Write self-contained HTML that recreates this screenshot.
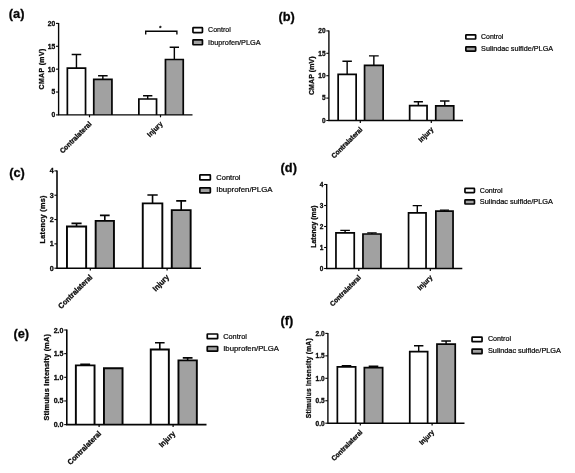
<!DOCTYPE html><html><head><meta charset="utf-8"><title>Figure</title>
<style>html,body{margin:0;padding:0;background:#fff}svg{display:block;filter:blur(0.45px)}text{font-family:"Liberation Sans",sans-serif;fill:#050505}text[font-weight=bold]{stroke:#111;stroke-width:0.3px}text.lg{stroke:#111;stroke-width:0.22px}</style></head><body>
<svg width="575" height="473" viewBox="0 0 575 473">
<rect width="575" height="473" fill="#fff"/>
<g>
<text x="8.8" y="17.5" font-size="12.8" font-weight="bold">(a)</text>
<path d="M76.45 68.20V54.50M71.67 54.50H81.23" stroke="#050505" stroke-width="1.42" fill="none"/>
<path d="M67.36 114.90V68.20H85.54V114.90" fill="#fff" stroke="#050505" stroke-width="1.72"/>
<path d="M102.85 79.30V75.70M98.07 75.70H107.63" stroke="#050505" stroke-width="1.42" fill="none"/>
<path d="M93.76 114.90V79.30H111.94V114.90" fill="#a1a1a1" stroke="#050505" stroke-width="1.72"/>
<path d="M147.70 99.00V95.70M143.04 95.70H152.36" stroke="#050505" stroke-width="1.42" fill="none"/>
<path d="M138.86 114.90V99.00H156.54V114.90" fill="#fff" stroke="#050505" stroke-width="1.72"/>
<path d="M174.35 59.50V47.30M169.67 47.30H179.03" stroke="#050505" stroke-width="1.42" fill="none"/>
<path d="M165.46 114.90V59.50H183.24V114.90" fill="#a1a1a1" stroke="#050505" stroke-width="1.72"/>
<path d="M58.60 22.90V114.90H192.50" stroke="#050505" stroke-width="1.37" fill="none"/>
<path d="M56.00 114.90H58.60" stroke="#050505" stroke-width="1.1"/>
<text x="55.30" y="117.31" font-size="6.70" font-weight="bold" text-anchor="end">0</text>
<path d="M56.00 92.03H58.60" stroke="#050505" stroke-width="1.1"/>
<text x="55.30" y="94.44" font-size="6.70" font-weight="bold" text-anchor="end">5</text>
<path d="M56.00 69.15H58.60" stroke="#050505" stroke-width="1.1"/>
<text x="55.30" y="71.56" font-size="6.70" font-weight="bold" text-anchor="end">10</text>
<path d="M56.00 46.28H58.60" stroke="#050505" stroke-width="1.1"/>
<text x="55.30" y="48.69" font-size="6.70" font-weight="bold" text-anchor="end">15</text>
<path d="M56.00 23.40H58.60" stroke="#050505" stroke-width="1.1"/>
<text x="55.30" y="25.81" font-size="6.70" font-weight="bold" text-anchor="end">20</text>
<path d="M89.50 114.90V117.30" stroke="#050505" stroke-width="1.2"/>
<path d="M160.50 114.90V117.30" stroke="#050505" stroke-width="1.2"/>
<text transform="translate(92.10 124.40) rotate(-45) scale(0.94 1)" font-size="7.2" font-weight="bold" text-anchor="end">Contralateral</text>
<text transform="translate(163.10 124.40) rotate(-45) scale(0.94 1)" font-size="7.2" font-weight="bold" text-anchor="end">Injury</text>
<text transform="translate(43.80 69.15) rotate(-90)" font-size="6.9" font-weight="bold" text-anchor="middle" textLength="40.7" lengthAdjust="spacing">CMAP (mV)</text>
<rect x="192.95" y="27.65" width="9.50" height="4.90" rx="0.5" fill="#fff" stroke="#050505" stroke-width="1.7"/>
<text x="208.10" y="32.44" font-size="7.80" textLength="22.7" lengthAdjust="spacingAndGlyphs" class="lg">Control</text>
<rect x="192.95" y="39.85" width="9.50" height="4.90" rx="0.5" fill="#a1a1a1" stroke="#050505" stroke-width="1.7"/>
<text x="208.10" y="44.64" font-size="7.80" textLength="52.6" lengthAdjust="spacingAndGlyphs" class="lg">Ibuprofen/PLGA</text>
<path d="M145.7 34.5V31.200000000000003H176.9V34.5" stroke="#050505" stroke-width="1.35" fill="none"/>
<text x="160.2" y="29.9" font-size="5.5" font-weight="bold" text-anchor="middle">*</text>
</g>
<g>
<text x="278.5" y="20.5" font-size="12.8" font-weight="bold">(b)</text>
<path d="M347.15 74.30V61.20M342.42 61.20H351.88" stroke="#050505" stroke-width="1.42" fill="none"/>
<path d="M338.16 120.50V74.30H356.14V120.50" fill="#fff" stroke="#050505" stroke-width="1.72"/>
<path d="M373.85 65.40V55.90M368.98 55.90H378.72" stroke="#050505" stroke-width="1.42" fill="none"/>
<path d="M364.56 120.50V65.40H383.14V120.50" fill="#a1a1a1" stroke="#050505" stroke-width="1.72"/>
<path d="M418.35 105.70V101.70M413.77 101.70H422.93" stroke="#050505" stroke-width="1.42" fill="none"/>
<path d="M409.66 120.50V105.70H427.04V120.50" fill="#fff" stroke="#050505" stroke-width="1.72"/>
<path d="M444.75 105.90V101.00M440.02 101.00H449.48" stroke="#050505" stroke-width="1.42" fill="none"/>
<path d="M435.76 120.50V105.90H453.74V120.50" fill="#a1a1a1" stroke="#050505" stroke-width="1.72"/>
<path d="M328.90 30.40V120.50H463.00" stroke="#050505" stroke-width="1.37" fill="none"/>
<path d="M326.30 120.50H328.90" stroke="#050505" stroke-width="1.1"/>
<text x="325.60" y="122.84" font-size="6.51" font-weight="bold" text-anchor="end">0</text>
<path d="M326.30 98.10H328.90" stroke="#050505" stroke-width="1.1"/>
<text x="325.60" y="100.44" font-size="6.51" font-weight="bold" text-anchor="end">5</text>
<path d="M326.30 75.70H328.90" stroke="#050505" stroke-width="1.1"/>
<text x="325.60" y="78.04" font-size="6.51" font-weight="bold" text-anchor="end">10</text>
<path d="M326.30 53.30H328.90" stroke="#050505" stroke-width="1.1"/>
<text x="325.60" y="55.64" font-size="6.51" font-weight="bold" text-anchor="end">15</text>
<path d="M326.30 30.90H328.90" stroke="#050505" stroke-width="1.1"/>
<text x="325.60" y="33.24" font-size="6.51" font-weight="bold" text-anchor="end">20</text>
<path d="M360.30 120.50V122.90" stroke="#050505" stroke-width="1.2"/>
<path d="M431.30 120.50V122.90" stroke="#050505" stroke-width="1.2"/>
<text transform="translate(362.90 130.00) rotate(-45) scale(0.94 1)" font-size="7.0" font-weight="bold" text-anchor="end">Contralateral</text>
<text transform="translate(433.90 130.00) rotate(-45) scale(0.94 1)" font-size="7.0" font-weight="bold" text-anchor="end">Injury</text>
<text transform="translate(313.90 75.70) rotate(-90)" font-size="7.0" font-weight="bold" text-anchor="middle" textLength="38.7" lengthAdjust="spacing">CMAP (mV)</text>
<rect x="465.85" y="34.80" width="9.80" height="4.20" rx="0.5" fill="#fff" stroke="#050505" stroke-width="1.7"/>
<text x="481.10" y="38.96" font-size="7.00" textLength="22.3" lengthAdjust="spacingAndGlyphs" class="lg">Control</text>
<rect x="465.85" y="46.90" width="9.80" height="4.20" rx="0.5" fill="#a1a1a1" stroke="#050505" stroke-width="1.7"/>
<text x="481.10" y="51.06" font-size="7.00" textLength="72.0" lengthAdjust="spacingAndGlyphs" class="lg">Sulindac sulfide/PLGA</text>
</g>
<g>
<text x="9.2" y="177.3" font-size="12.8" font-weight="bold">(c)</text>
<path d="M76.55 226.50V223.40M71.49 223.40H81.61" stroke="#050505" stroke-width="1.62" fill="none"/>
<path d="M66.96 268.20V226.50H86.14V268.20" fill="#fff" stroke="#050505" stroke-width="1.92"/>
<path d="M104.80 220.90V215.40M99.95 215.40H109.65" stroke="#050505" stroke-width="1.62" fill="none"/>
<path d="M95.66 268.20V220.90H113.94V268.20" fill="#a1a1a1" stroke="#050505" stroke-width="1.92"/>
<path d="M152.55 203.40V195.00M147.39 195.00H157.71" stroke="#050505" stroke-width="1.62" fill="none"/>
<path d="M142.76 268.20V203.40H162.34V268.20" fill="#fff" stroke="#050505" stroke-width="1.92"/>
<path d="M181.20 210.10V200.90M176.21 200.90H186.19" stroke="#050505" stroke-width="1.62" fill="none"/>
<path d="M171.76 268.20V210.10H190.64V268.20" fill="#a1a1a1" stroke="#050505" stroke-width="1.92"/>
<path d="M57.00 170.40V268.20H201.00" stroke="#050505" stroke-width="1.57" fill="none"/>
<path d="M54.40 268.20H57.00" stroke="#050505" stroke-width="1.1"/>
<text x="53.70" y="270.78" font-size="7.16" font-weight="bold" text-anchor="end">0</text>
<path d="M54.40 243.88H57.00" stroke="#050505" stroke-width="1.1"/>
<text x="53.70" y="246.45" font-size="7.16" font-weight="bold" text-anchor="end">1</text>
<path d="M54.40 219.55H57.00" stroke="#050505" stroke-width="1.1"/>
<text x="53.70" y="222.13" font-size="7.16" font-weight="bold" text-anchor="end">2</text>
<path d="M54.40 195.22H57.00" stroke="#050505" stroke-width="1.1"/>
<text x="53.70" y="197.80" font-size="7.16" font-weight="bold" text-anchor="end">3</text>
<path d="M54.40 170.90H57.00" stroke="#050505" stroke-width="1.1"/>
<text x="53.70" y="173.48" font-size="7.16" font-weight="bold" text-anchor="end">4</text>
<path d="M90.30 268.20V270.60" stroke="#050505" stroke-width="1.2"/>
<path d="M167.10 268.20V270.60" stroke="#050505" stroke-width="1.2"/>
<text transform="translate(92.90 277.70) rotate(-45) scale(0.94 1)" font-size="7.7" font-weight="bold" text-anchor="end">Contralateral</text>
<text transform="translate(169.70 277.70) rotate(-45) scale(0.94 1)" font-size="7.7" font-weight="bold" text-anchor="end">Injury</text>
<text transform="translate(45.00 219.55) rotate(-90)" font-size="7.3" font-weight="bold" text-anchor="middle" textLength="48.0" lengthAdjust="spacing">Latency (ms)</text>
<rect x="199.85" y="174.90" width="10.50" height="5.00" rx="0.5" fill="#fff" stroke="#050505" stroke-width="1.7"/>
<text x="216.30" y="179.53" font-size="7.20" textLength="24.2" lengthAdjust="spacingAndGlyphs" class="lg">Control</text>
<rect x="199.85" y="187.80" width="10.50" height="5.00" rx="0.5" fill="#a1a1a1" stroke="#050505" stroke-width="1.7"/>
<text x="216.30" y="192.43" font-size="7.20" textLength="56.2" lengthAdjust="spacingAndGlyphs" class="lg">Ibuprofen/PLGA</text>
</g>
<g>
<text x="280.6" y="172.3" font-size="12.8" font-weight="bold">(d)</text>
<path d="M345.10 232.90V230.40M340.30 230.40H349.90" stroke="#050505" stroke-width="1.42" fill="none"/>
<path d="M335.96 268.50V232.90H354.24V268.50" fill="#fff" stroke="#050505" stroke-width="1.72"/>
<path d="M371.95 234.00V232.90M367.22 232.90H376.68" stroke="#050505" stroke-width="1.42" fill="none"/>
<path d="M362.96 268.50V234.00H380.94V268.50" fill="#a1a1a1" stroke="#050505" stroke-width="1.72"/>
<path d="M417.30 212.90V205.60M412.69 205.60H421.91" stroke="#050505" stroke-width="1.42" fill="none"/>
<path d="M408.56 268.50V212.90H426.04V268.50" fill="#fff" stroke="#050505" stroke-width="1.72"/>
<path d="M444.45 211.20V210.10M439.91 210.10H448.99" stroke="#050505" stroke-width="1.42" fill="none"/>
<path d="M435.86 268.50V211.20H453.04V268.50" fill="#a1a1a1" stroke="#050505" stroke-width="1.72"/>
<path d="M326.70 184.00V268.50H462.30" stroke="#050505" stroke-width="1.37" fill="none"/>
<path d="M324.10 268.50H326.70" stroke="#050505" stroke-width="1.1"/>
<text x="323.40" y="270.84" font-size="6.51" font-weight="bold" text-anchor="end">0</text>
<path d="M324.10 247.50H326.70" stroke="#050505" stroke-width="1.1"/>
<text x="323.40" y="249.84" font-size="6.51" font-weight="bold" text-anchor="end">1</text>
<path d="M324.10 226.50H326.70" stroke="#050505" stroke-width="1.1"/>
<text x="323.40" y="228.84" font-size="6.51" font-weight="bold" text-anchor="end">2</text>
<path d="M324.10 205.50H326.70" stroke="#050505" stroke-width="1.1"/>
<text x="323.40" y="207.84" font-size="6.51" font-weight="bold" text-anchor="end">3</text>
<path d="M324.10 184.50H326.70" stroke="#050505" stroke-width="1.1"/>
<text x="323.40" y="186.84" font-size="6.51" font-weight="bold" text-anchor="end">4</text>
<path d="M358.80 268.50V270.90" stroke="#050505" stroke-width="1.2"/>
<path d="M430.30 268.50V270.90" stroke="#050505" stroke-width="1.2"/>
<text transform="translate(361.40 278.00) rotate(-45) scale(0.94 1)" font-size="7.0" font-weight="bold" text-anchor="end">Contralateral</text>
<text transform="translate(432.90 278.00) rotate(-45) scale(0.94 1)" font-size="7.0" font-weight="bold" text-anchor="end">Injury</text>
<text transform="translate(316.20 226.50) rotate(-90)" font-size="6.8" font-weight="bold" text-anchor="middle" textLength="42.3" lengthAdjust="spacing">Latency (ms)</text>
<rect x="464.95" y="188.45" width="9.50" height="4.10" rx="0.5" fill="#fff" stroke="#050505" stroke-width="1.7"/>
<text x="479.80" y="192.59" font-size="7.10" textLength="22.8" lengthAdjust="spacingAndGlyphs" class="lg">Control</text>
<rect x="464.95" y="199.90" width="9.50" height="4.10" rx="0.5" fill="#a1a1a1" stroke="#050505" stroke-width="1.7"/>
<text x="479.80" y="204.04" font-size="7.10" textLength="73.2" lengthAdjust="spacingAndGlyphs" class="lg">Sulindac sulfide/PLGA</text>
</g>
<g>
<text x="13.4" y="337.9" font-size="12.8" font-weight="bold">(e)</text>
<path d="M85.20 365.40V364.30M80.26 364.30H90.14" stroke="#050505" stroke-width="1.62" fill="none"/>
<path d="M75.86 424.60V365.40H94.54V424.60" fill="#fff" stroke="#050505" stroke-width="1.92"/>
<path d="M103.96 424.60V368.20H122.54V424.60" fill="#a1a1a1" stroke="#050505" stroke-width="1.92"/>
<path d="M159.80 349.50V342.80M155.00 342.80H164.60" stroke="#050505" stroke-width="1.62" fill="none"/>
<path d="M150.76 424.60V349.50H168.84V424.60" fill="#fff" stroke="#050505" stroke-width="1.92"/>
<path d="M187.65 360.40V357.90M182.78 357.90H192.52" stroke="#050505" stroke-width="1.62" fill="none"/>
<path d="M178.46 424.60V360.40H196.84V424.60" fill="#a1a1a1" stroke="#050505" stroke-width="1.92"/>
<path d="M66.80 329.50V424.60H206.50" stroke="#050505" stroke-width="1.57" fill="none"/>
<path d="M64.20 424.60H66.80" stroke="#050505" stroke-width="1.1"/>
<text x="63.50" y="427.14" font-size="7.07" font-weight="bold" text-anchor="end">0.0</text>
<path d="M64.20 400.95H66.80" stroke="#050505" stroke-width="1.1"/>
<text x="63.50" y="403.49" font-size="7.07" font-weight="bold" text-anchor="end">0.5</text>
<path d="M64.20 377.30H66.80" stroke="#050505" stroke-width="1.1"/>
<text x="63.50" y="379.84" font-size="7.07" font-weight="bold" text-anchor="end">1.0</text>
<path d="M64.20 353.65H66.80" stroke="#050505" stroke-width="1.1"/>
<text x="63.50" y="356.19" font-size="7.07" font-weight="bold" text-anchor="end">1.5</text>
<path d="M64.20 330.00H66.80" stroke="#050505" stroke-width="1.1"/>
<text x="63.50" y="332.54" font-size="7.07" font-weight="bold" text-anchor="end">2.0</text>
<path d="M99.10 424.60V427.00" stroke="#050505" stroke-width="1.2"/>
<path d="M173.10 424.60V427.00" stroke="#050505" stroke-width="1.2"/>
<text transform="translate(101.70 434.10) rotate(-45) scale(0.94 1)" font-size="7.6" font-weight="bold" text-anchor="end">Contralateral</text>
<text transform="translate(175.70 434.10) rotate(-45) scale(0.94 1)" font-size="7.6" font-weight="bold" text-anchor="end">Injury</text>
<text transform="translate(49.00 377.30) rotate(-90)" font-size="7.3" font-weight="bold" text-anchor="middle" textLength="86.6" lengthAdjust="spacing">Stimulus intensity (mA)</text>
<rect x="207.25" y="334.00" width="10.40" height="4.70" rx="0.5" fill="#fff" stroke="#050505" stroke-width="1.7"/>
<text x="223.20" y="338.55" font-size="7.40" textLength="23.7" lengthAdjust="spacingAndGlyphs" class="lg">Control</text>
<rect x="207.25" y="346.50" width="10.40" height="4.70" rx="0.5" fill="#a1a1a1" stroke="#050505" stroke-width="1.7"/>
<text x="223.20" y="351.05" font-size="7.40" textLength="55.7" lengthAdjust="spacingAndGlyphs" class="lg">Ibuprofen/PLGA</text>
</g>
<g>
<text x="280.6" y="324.8" font-size="12.8" font-weight="bold">(f)</text>
<path d="M346.50 366.80V365.60M341.70 365.60H351.30" stroke="#050505" stroke-width="1.42" fill="none"/>
<path d="M337.36 423.20V366.80H355.64V423.20" fill="#fff" stroke="#050505" stroke-width="1.72"/>
<path d="M373.50 367.60V366.20M368.70 366.20H378.30" stroke="#050505" stroke-width="1.42" fill="none"/>
<path d="M364.36 423.20V367.60H382.64V423.20" fill="#a1a1a1" stroke="#050505" stroke-width="1.72"/>
<path d="M418.70 351.70V345.70M414.00 345.70H423.40" stroke="#050505" stroke-width="1.42" fill="none"/>
<path d="M409.76 423.20V351.70H427.64V423.20" fill="#fff" stroke="#050505" stroke-width="1.72"/>
<path d="M446.10 344.20V341.00M441.30 341.00H450.90" stroke="#050505" stroke-width="1.42" fill="none"/>
<path d="M436.96 423.20V344.20H455.24V423.20" fill="#a1a1a1" stroke="#050505" stroke-width="1.72"/>
<path d="M327.90 332.90V423.20H464.50" stroke="#050505" stroke-width="1.37" fill="none"/>
<path d="M325.30 423.20H327.90" stroke="#050505" stroke-width="1.1"/>
<text x="324.60" y="425.54" font-size="6.51" font-weight="bold" text-anchor="end">0.0</text>
<path d="M325.30 400.75H327.90" stroke="#050505" stroke-width="1.1"/>
<text x="324.60" y="403.09" font-size="6.51" font-weight="bold" text-anchor="end">0.5</text>
<path d="M325.30 378.30H327.90" stroke="#050505" stroke-width="1.1"/>
<text x="324.60" y="380.64" font-size="6.51" font-weight="bold" text-anchor="end">1.0</text>
<path d="M325.30 355.85H327.90" stroke="#050505" stroke-width="1.1"/>
<text x="324.60" y="358.19" font-size="6.51" font-weight="bold" text-anchor="end">1.5</text>
<path d="M325.30 333.40H327.90" stroke="#050505" stroke-width="1.1"/>
<text x="324.60" y="335.74" font-size="6.51" font-weight="bold" text-anchor="end">2.0</text>
<path d="M360.30 423.20V425.60" stroke="#050505" stroke-width="1.2"/>
<path d="M432.10 423.20V425.60" stroke="#050505" stroke-width="1.2"/>
<text transform="translate(362.90 432.70) rotate(-45) scale(0.94 1)" font-size="7.0" font-weight="bold" text-anchor="end">Contralateral</text>
<text transform="translate(434.70 432.70) rotate(-45) scale(0.94 1)" font-size="7.0" font-weight="bold" text-anchor="end">Injury</text>
<text transform="translate(310.70 378.30) rotate(-90)" font-size="6.6" font-weight="bold" text-anchor="middle" textLength="79.8" lengthAdjust="spacing">Stimulus intensity (mA)</text>
<rect x="472.05" y="337.15" width="10.00" height="4.50" rx="0.5" fill="#fff" stroke="#050505" stroke-width="1.7"/>
<text x="487.90" y="341.49" font-size="7.10" textLength="23.1" lengthAdjust="spacingAndGlyphs" class="lg">Control</text>
<rect x="472.05" y="349.15" width="10.00" height="4.50" rx="0.5" fill="#a1a1a1" stroke="#050505" stroke-width="1.7"/>
<text x="487.90" y="353.49" font-size="7.10" textLength="73.1" lengthAdjust="spacingAndGlyphs" class="lg">Sulindac sulfide/PLGA</text>
</g>
</svg></body></html>
